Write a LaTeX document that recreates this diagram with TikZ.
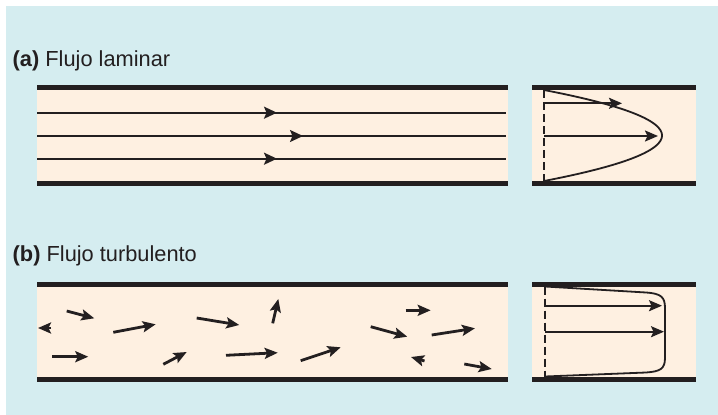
\documentclass[tikz,border=0pt]{standalone}
\usepackage{fontspec}
\setmainfont{Liberation Sans}
\usetikzlibrary{arrows.meta}

\definecolor{panelblue}{HTML}{D5EDF0}
\definecolor{pipefill}{HTML}{FEF0E1}
\definecolor{walldark}{HTML}{231F20}

% pipe section: x from #1 to #2, walls at #3 and #4
\newcommand{\tube}[4]{%
  \fill[pipefill] (#1,#3) rectangle (#2,#4);
  \draw[wall] (#1,#3) -- (#2,#3);
  \draw[wall] (#1,#4) -- (#2,#4);
}

\begin{document}
\begin{tikzpicture}[
        x=1pt, y=-1pt,
        wall/.style={line width=5pt, walldark},
        stream/.style={line width=1.8pt, walldark},
        profile/.style={line width=1.8pt, walldark},
        vel/.style={-{Stealth[length=13pt, width=11pt, inset=2.5pt]}, line width=2pt, walldark},
        eddy/.style={-{Stealth[length=13pt, width=11pt, inset=2.5pt]}, line width=2.8pt, walldark},
        axisline/.style={line width=1.2pt, walldark, dash pattern=on 8pt off 4pt},
        heading/.style={anchor=base west, inner sep=0pt, text=walldark,
            font=\fontsize{21.8}{26}\selectfont}
    ]

    \useasboundingbox (0,0) rectangle (718,415);
    \fill[panelblue] (6,6) rectangle (718,415);

    % (a) laminar
    \node[heading] (lam) at (12.5,66) {\textbf{(a)} Flujo laminar};

    \tube{37}{508}{87.5}{183.5}
    \tube{532}{696}{87.5}{183.5}

    \foreach \y/\tip in {112.7/277, 136/303, 158.7/277} {
        \draw[stream] (37,\y) -- (506,\y);
        \draw[stream, -{Stealth[length=13pt, width=12pt, inset=2.5pt]}] (37,\y) -- (\tip,\y);
    }

    \draw[axisline] (544,90) -- (544,181);
    \draw[profile] plot[domain=-1:1, samples=60, smooth]
        ({544+118*(1-\x*\x)}, {135.5+45.5*\x});
    \draw[vel] (544,103.3) -- (622,103.3);
    \draw[vel] (544,136) -- (658,136);

    % (b) turbulent
    \node[heading] (turb) at (12.5,261) {\textbf{(b)} Flujo turbulento};

    \tube{37}{508}{284}{379}
    \tube{532}{696}{284}{379}

    \foreach \xa/\ya/\xb/\yb in {
        51/328/38/328, 66.7/311/94.3/318.3, 113.3/332.3/155.7/324.3,
        196.7/318/239.3/325, 272.7/323.3/278.3/299, 52.3/356.7/88.3/356.7,
        163.3/364.3/186.7/352, 226/355.3/277.7/352.7, 300.7/360.7/340.7/347.3,
        405.7/310.3/430.7/310.3, 370.7/326.7/407.3/336.7, 431.7/335/475/328.3,
        424.5/361/411/357, 464.3/364/491.7/369}
        \draw[eddy] (\xa,\ya) -- (\xb,\yb);

    \draw[axisline] (545,286.5) -- (545,376.5);
    \draw[profile] (545,286.5) -- (646,292.5)
        .. controls (661,293.5) and (665,297) .. (665,308) -- (665,358)
        .. controls (665,369) and (660,371.5) .. (646,372.5) -- (545,376.5);
    \draw[vel] (545,305.7) -- (662,305.7);
    \draw[vel] (545,331.7) -- (664,331.7);
\end{tikzpicture}
\end{document}
